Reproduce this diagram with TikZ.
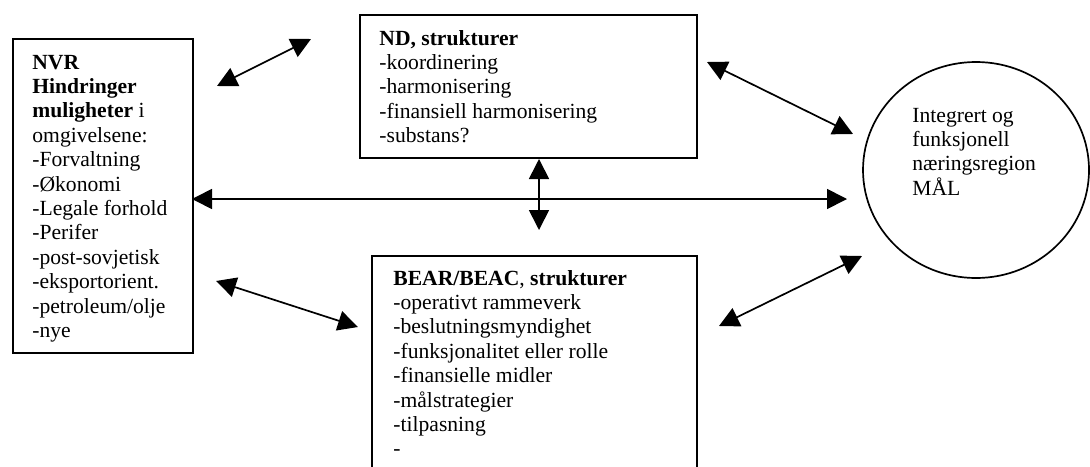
\documentclass[tikz,border=0pt]{standalone}
\usepackage{fontspec}
\setmainfont{Liberation Serif}
\usetikzlibrary{arrows.meta,shapes.geometric}
\begin{document}
\begin{tikzpicture}[x=0.5pt,y=-0.5pt,
  box/.style={draw,line width=0.85pt,rectangle,anchor=north west,inner sep=0pt},
  txt/.style={anchor=base west,align=left,inner sep=0pt,font=\fontsize{10.8}{12.2}\selectfont},
  dbl/.style={line width=0.85pt,{Triangle[length=10pt,width=10pt]}-{Triangle[length=10pt,width=10pt]}}]

\useasboundingbox (0,0) rectangle (1090,466);
\clip (0,0) rectangle (1090,466);

% boxes (text nodes are placed by the baseline of their last line)
\node[box,minimum width=90pt,minimum height=157pt] (nvr) at (12,38) {};
\node[txt] (nvrtext) at (32,337.4) {\textbf{NVR}\\ \textbf{Hindringer}\\ \textbf{muligheter} i\\ omgivelsene:\\ -Forvaltning\\ -Økonomi\\ -Legale forhold\\ -Perifer\\ -post-sovjetisk\\ -eksportorient.\\ -petroleum/olje\\ -nye};

\node[box,minimum width=168.5pt,minimum height=71.5pt] (nd) at (359,14) {};
\node[txt] (ndtext) at (379,142.6) {\textbf{ND, strukturer}\\ -koordinering\\ -harmonisering\\ -finansiell harmonisering\\ -substans?};

\node[box,minimum width=162.5pt,minimum height=125pt] (bear) at (371,255) {};
\node[txt] (beartext) at (393,455.8) {\textbf{BEAR/BEAC}, \textbf{strukturer}\\ -operativt rammeverk\\ -beslutningsmyndighet\\ -funksjonalitet eller rolle\\ -finansielle midler\\ -målstrategier\\ -tilpasning\\ -};

\node[ellipse,draw,line width=0.85pt,inner sep=0pt,minimum width=113pt,minimum height=108pt] (goal) at (976,170) {};
\node[txt] (goaltext) at (912,195.2) {Integrert og\\ funksjonell\\ næringsregion\\ MÅL};

% arrow end points
\coordinate (a1) at (217,86);  \coordinate (a2) at (311,39);
\coordinate (b1) at (707,62);  \coordinate (b2) at (853,134);
\coordinate (c1) at (539,159); \coordinate (c2) at (539,230);
\coordinate (d1) at (192,199); \coordinate (d2) at (847,199);
\coordinate (e1) at (216,281); \coordinate (e2) at (358,327);
\coordinate (f1) at (719,326); \coordinate (f2) at (862,256);

\draw[dbl] (a1) -- (a2);
\draw[dbl] (b1) -- (b2);
\draw[dbl] (c1) -- (c2);
\draw[dbl] (d1) -- (d2);
\draw[dbl] (e1) -- (e2);
\draw[dbl] (f1) -- (f2);
\end{tikzpicture}
\end{document}
